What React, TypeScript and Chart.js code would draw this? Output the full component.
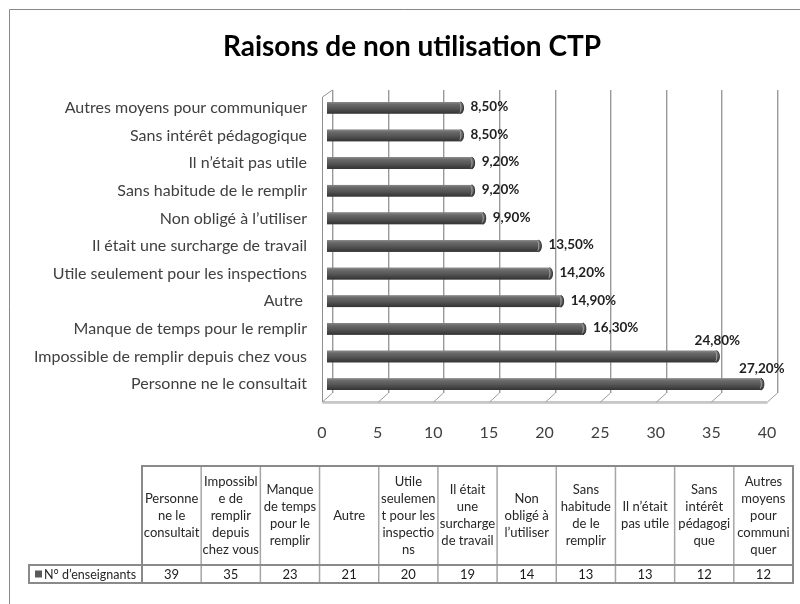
import React, { useEffect, useRef } from "react";
import { Chart, registerables } from "chart.js";

Chart.register(...registerables);

const TITLE = "Raisons de non utilisation CTP";
const SERIES_NAME = "N° d’enseignants";

const categories = [
  "Personne ne le consultait",
  "Impossible de remplir depuis chez vous",
  "Manque de temps pour le remplir",
  "Autre ",
  "Utile seulement pour les inspections",
  "Il était une surcharge de travail",
  "Non obligé à l’utiliser",
  "Sans habitude de le remplir",
  "Il n’était pas utile",
  "Sans intérêt pédagogique",
  "Autres moyens pour communiquer",
];

const teacherCounts = [39, 35, 23, 21, 20, 19, 14, 13, 13, 12, 12];

const percentLabels = [27.2, 24.8, 16.3, 14.9, 14.2, 13.5, 9.9, 9.2, 9.2, 8.5, 8.5];

const xTickMin = 0;
const xTickMax = 40;
const xTickStep = 5;

const tableHeaderLines = [
  ["Personne", "ne le", "consultait"],
  ["Impossibl", "e de", "remplir", "depuis", "chez vous"],
  ["Manque", "de temps", "pour le", "remplir"],
  ["Autre"],
  ["Utile", "seulemen", "t pour les", "inspectio", "ns"],
  ["Il était", "une", "surcharge", "de travail"],
  ["Non", "obligé à", "l’utiliser"],
  ["Sans", "habitude", "de le", "remplir"],
  ["Il n’était", "pas utile"],
  ["Sans", "intérêt", "pédagogi", "que"],
  ["Autres", "moyens", "pour", "communi", "quer"],
];

const FONT = "Lato, 'Open Sans', sans-serif";

const fmtPct = (p: number) => p.toFixed(2).replace(".", ",") + "%";

const framePlugin = {
  id: "frame3d",
  beforeDatasetsDraw(chart: any) {
    const ctx = chart.ctx as CanvasRenderingContext2D;
    const xs = chart.scales.x;
    const { top, bottom } = chart.chartArea;
    const dxF = -5;
    const dxB = 5;
    const backTop = top - 4;
    const backBottom = bottom - 5;
    const frontBottom = bottom + 4;
    const frontTop = top + 3;
    ctx.save();
    ctx.lineWidth = 1;
    for (let v = xTickMin; v <= xTickMax; v += xTickStep) {
      const x = xs.getPixelForValue(v);
      const xb = Math.round(x + dxB) + 0.5;
      const xf = Math.round(x + dxF) + 0.5;
      ctx.strokeStyle = "#d6d6d6";
      ctx.beginPath();
      ctx.moveTo(xb + 1, backTop);
      ctx.lineTo(xb + 1, backBottom);
      ctx.stroke();
      ctx.strokeStyle = "#9a9a9a";
      ctx.beginPath();
      ctx.moveTo(xb, backTop);
      ctx.lineTo(xb, backBottom);
      ctx.lineTo(xf, frontBottom);
      ctx.stroke();
    }
    const x0 = Math.round(xs.getPixelForValue(xTickMin) + dxF) + 0.5;
    const x0b = Math.round(xs.getPixelForValue(xTickMin) + dxB) + 0.5;
    const x40 = Math.round(xs.getPixelForValue(xTickMax) + dxF) + 0.5;
    ctx.strokeStyle = "#8f8f8f";
    ctx.beginPath();
    ctx.moveTo(x0b, backTop);
    ctx.lineTo(x0, frontTop);
    ctx.lineTo(x0, frontBottom);
    ctx.lineTo(x40, frontBottom);
    ctx.stroke();
    ctx.strokeStyle = "#d0d0d0";
    ctx.beginPath();
    ctx.moveTo(x0, frontBottom + 1.5);
    ctx.lineTo(x40, frontBottom + 1.5);
    ctx.stroke();
    ctx.restore();
  },
};

const barStylePlugin = {
  id: "barStyle",
  afterDatasetsDraw(chart: any) {
    const ctx = chart.ctx as CanvasRenderingContext2D;
    const meta = chart.getDatasetMeta(0);
    ctx.save();
    meta.data.forEach((el: any, i: number) => {
      const { x, y, base, height } = el.getProps(["x", "y", "base", "height"], true);
      const y0 = y - height / 2;
      const g = ctx.createLinearGradient(0, y0, 0, y0 + height);
      g.addColorStop(0, "#8a8a8a");
      g.addColorStop(0.2, "#6a6a6a");
      g.addColorStop(0.55, "#555555");
      g.addColorStop(1, "#333333");
      ctx.fillStyle = g;
      ctx.fillRect(base, y0, x - base, height);
      ctx.beginPath();
      ctx.ellipse(x, y, 3, height / 2, 0, -Math.PI / 2, Math.PI / 2);
      ctx.closePath();
      ctx.fillStyle = g;
      ctx.fill();
      ctx.strokeStyle = "#2e2e2e";
      ctx.lineWidth = 1;
      ctx.beginPath();
      ctx.ellipse(x, y, 3, height / 2, 0, -Math.PI / 2, Math.PI / 2);
      ctx.stroke();
      ctx.strokeStyle = "#a0a0a0";
      ctx.beginPath();
      ctx.ellipse(x - 1, y, 1.5, height / 2 - 1.5, 0, -Math.PI / 2, Math.PI / 2);
      ctx.stroke();

      const val = teacherCounts[i];
      const txt = fmtPct(percentLabels[i]);
      ctx.font = `bold 13.5px ${FONT}`;
      ctx.fillStyle = "#1f1f1f";
      ctx.textBaseline = "middle";
      if (val < 30) {
        ctx.textAlign = "left";
        ctx.fillText(txt, x + 10, y - 1);
      } else {
        ctx.textAlign = "center";
        ctx.fillText(txt, x + 1, y - 16);
      }
    });
    ctx.restore();
  },
};

const tablePlugin = {
  id: "dataTable",
  afterDraw(chart: any) {
    const ctx = chart.ctx as CanvasRenderingContext2D;
    const left = 142;
    const right = 793;
    const headTop = 466;
    const headBottom = 565;
    const rowBottom = 583;
    const legLeft = 29;
    const n = categories.length;
    const colW = (right - left) / n;
    ctx.save();

    // title
    ctx.fillStyle = "#000000";
    ctx.font = `bold 28px ${FONT}`;
    ctx.textAlign = "center";
    ctx.textBaseline = "middle";
    ctx.fillText(TITLE, 412, 47);

    // outer page frame
    ctx.strokeStyle = "#878787";
    ctx.lineWidth = 1;
    ctx.beginPath();
    ctx.moveTo(800, 9.5);
    ctx.lineTo(9.5, 9.5);
    ctx.lineTo(9.5, 604);
    ctx.stroke();

    // inner verticals
    ctx.strokeStyle = "#a6a6a6";
    ctx.lineWidth = 1.5;
    for (let i = 1; i < n; i++) {
      const x = left + i * colW;
      ctx.beginPath();
      ctx.moveTo(x, headTop);
      ctx.lineTo(x, rowBottom);
      ctx.stroke();
    }
    ctx.strokeStyle = "#8a8a8a";
    ctx.lineWidth = 2;
    ctx.strokeRect(left, headTop, right - left, rowBottom - headTop);
    ctx.beginPath();
    ctx.moveTo(left, headBottom);
    ctx.lineTo(right, headBottom);
    ctx.stroke();
    ctx.strokeRect(legLeft, headBottom, left - legLeft, rowBottom - headBottom);

    // header text
    ctx.fillStyle = "#262626";
    ctx.font = `13px ${FONT}`;
    ctx.textAlign = "center";
    ctx.textBaseline = "middle";
    const lh = 17;
    const midH = (headTop + headBottom) / 2;
    tableHeaderLines.forEach((lines, i) => {
      const cx = left + (i + 0.5) * colW;
      const y0 = midH - ((lines.length - 1) * lh) / 2;
      lines.forEach((ln, j) => ctx.fillText(ln, cx, y0 + j * lh));
    });
    // values
    const midV = (headBottom + rowBottom) / 2 + 0.5;
    ctx.fillStyle = "#1a1a1a";
    ctx.font = `13px ${FONT}`;
    teacherCounts.forEach((v, i) => {
      ctx.fillText(String(v), left + (i + 0.5) * colW, midV);
    });
    // legend
    ctx.fillStyle = "#595959";
    ctx.fillRect(35, midV - 4, 7, 7);
    ctx.fillStyle = "#262626";
    ctx.textAlign = "left";
    ctx.font = `12.5px ${FONT}`;
    ctx.fillText(SERIES_NAME, 44, midV);
    ctx.restore();
  },
};

export default function App() {
  const ref = useRef<HTMLCanvasElement | null>(null);
  useEffect(() => {
    if (!ref.current) return;
    const chart = new Chart(ref.current, {
      type: "bar",
      data: {
        labels: categories,
        datasets: [
          {
            label: SERIES_NAME,
            data: teacherCounts,
            backgroundColor: "#595959",
            barPercentage: 0.42,
            categoryPercentage: 1,
          },
        ],
      },
      options: {
        indexAxis: "y",
        responsive: false,
        animation: false,
        devicePixelRatio: 1,
        layout: { padding: { left: 0, right: 28, top: 94, bottom: 156 } },
        plugins: {
          legend: { display: false },
          tooltip: { enabled: false },
          title: { display: false },
        },
        scales: {
          y: {
            type: "category",
            reverse: true,
            grid: { display: false, drawTicks: false },
            border: { display: false },
            ticks: {
              color: "#404040",
              font: { family: FONT, size: 16 },
              padding: 20,
            },
            afterFit: (s: any) => {
              s.width = 327;
              s.paddingTop = 0;
              s.paddingBottom = 0;
            },
          },
          x: {
            type: "linear",
            min: xTickMin,
            max: xTickMax,
            grid: { display: false, drawTicks: false },
            border: { display: false },
            ticks: {
              stepSize: xTickStep,
              color: "#404040",
              font: { family: FONT, size: 16 },
              padding: 25,
              labelOffset: -5,
            },
            afterFit: (s: any) => {
              s.height = 50;
              s.paddingLeft = 0;
              s.paddingRight = 0;
            },
          },
        },
      },
      plugins: [framePlugin, barStylePlugin, tablePlugin],
    });
    return () => chart.destroy();
  }, []);
  return (
    <div style={{ position: "fixed", left: 0, top: 0, width: 800, height: 604, background: "#fff" }}>
      <canvas ref={ref} width={800} height={604} style={{ display: "block" }} />
    </div>
  );
}
